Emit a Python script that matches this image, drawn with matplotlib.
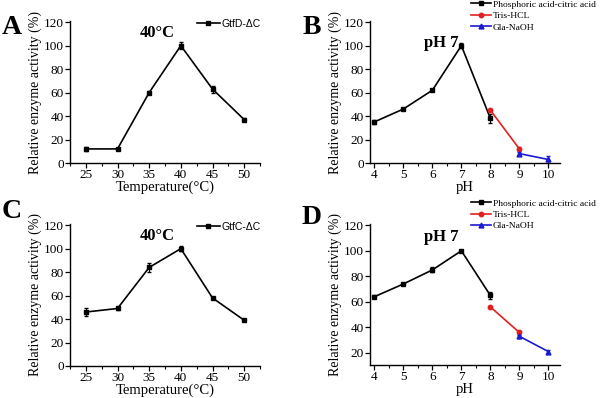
import numpy as np
import matplotlib
matplotlib.use("Agg")
import matplotlib.pyplot as plt
from matplotlib.ticker import MultipleLocator

plt.rcParams['font.family'] = ['Liberation Serif', 'DejaVu Serif']

# Panel A / C: temperature
temp = [25, 30, 35, 40, 45, 50]
gtfd = [12, 12, 60, 100, 63, 37]
gtfd_err = [2, 1, 1, 3, 3, 1]
gtfc = [46, 49, 84, 100, 58, 39]
gtfc_err = [3, 1, 4, 2, 1, 1]

# Panel B / D: pH, three buffers
ph_pa = [4, 5, 6, 7, 8]
ph_tris = [8, 9]
ph_gla = [9, 10]
b_pa = [35, 46, 62, 100, 38]
b_pa_err = [2, 1, 1, 2, 4]
b_tris = [45, 12]
b_tris_err = [1, 2]
b_gla = [8, 3]
b_gla_err = [1, 3]
d_pa = [64, 74, 85, 100, 65]
d_pa_err = [1, 1, 2, 1, 3]
d_tris = [56, 36]
d_tris_err = [1, 1]
d_gla = [33, 21]
d_gla_err = [1, 1]

buffer_names = ['Phosphoric acid-citric acid', 'Tris-HCL', 'Gla-NaOH']

fig = plt.figure(figsize=(6.0, 3.98), dpi=100)

W, H = 600.0, 398.0
def place(x0, x1, ytop, ybot):
    return fig.add_axes([x0 / W, 1 - ybot / H, (x1 - x0) / W, (ybot - ytop) / H])

axA = place(70, 260, 21, 163)
axB = place(370, 560, 21, 163)
axC = place(70, 260, 224, 366)
axD = place(370, 560, 224, 365)

def style(ax):
    for s in ['top', 'right']:
        ax.spines[s].set_visible(False)
    for s in ['left', 'bottom']:
        ax.spines[s].set_linewidth(1.0)
    ax.tick_params(direction='out', length=3.5, width=0.9, labelsize=9.5, pad=1)
    ax.tick_params(which='minor', direction='out', length=2, width=0.8)
    ax.set_ylabel('Relative enzyme activity (%)', fontsize=10, labelpad=1)

def series(ax, x, y, err, color, marker, ms, name):
    ax.plot(x, y, color=color, marker=marker, markersize=ms, lw=1.2, label=name)
    ax.errorbar(x, y, yerr=err, fmt='none', ecolor=color, capsize=1.5, elinewidth=0.8)

def temp_panel(ax, y, err, name):
    series(ax, temp, y, err, 'black', 's', 3.5, name)
    ax.set_xlim(22.5, 52.5)
    ax.set_ylim(0, 121)
    ax.set_xticks(temp)
    ax.xaxis.set_minor_locator(MultipleLocator(2.5))
    ax.set_yticks(np.arange(0, 121, 20))
    style(ax)
    ax.set_xlabel('Temperature(°C)', fontsize=10.5, labelpad=-0.5)
    ax.text(0.458, 0.915, '40°C', transform=ax.transAxes, ha='center', va='center',
            fontsize=12, fontweight='bold')

def ph_panel(ax, pa, pa_err, tris, tris_err, gla, gla_err, ymin, yticks, ytxt):
    series(ax, ph_pa, pa, pa_err, 'black', 's', 3.5, buffer_names[0])
    series(ax, ph_tris, tris, tris_err, '#e02020', 'o', 3.2, buffer_names[1])
    series(ax, ph_gla, gla, gla_err, '#1a1ad0', '^', 3.5, buffer_names[2])
    ax.set_xlim(3.85, 10.4)
    ax.set_ylim(ymin, 121)
    ax.set_xticks(range(4, 11))
    ax.xaxis.set_minor_locator(MultipleLocator(0.5))
    ax.set_yticks(yticks)
    style(ax)
    ax.set_xlabel('pH', fontsize=10.5, labelpad=-0.5)
    ax.text(0.374, ytxt, 'pH 7', transform=ax.transAxes, ha='center', va='center',
            fontsize=12, fontweight='bold')

temp_panel(axA, gtfd, gtfd_err, 'GtfD-ΔC')
temp_panel(axC, gtfc, gtfc_err, 'GtfC-ΔC')
ph_panel(axB, b_pa, b_pa_err, b_tris, b_tris_err, b_gla, b_gla_err, 0,
         np.arange(0, 121, 20), 0.845)
ph_panel(axD, d_pa, d_pa_err, d_tris, d_tris_err, d_gla, d_gla_err, 10.5,
         np.arange(20, 121, 20), 0.907)

# legends placed in figure pixels
for ax, ytop in [(axA, 19), (axC, 222)]:
    ax.legend(loc='upper left', bbox_to_anchor=(197 / W, 1 - ytop / H),
              bbox_transform=fig.transFigure, frameon=False,
              prop={'family': 'Liberation Sans', 'size': 7.5}, handlelength=2.2,
              handletextpad=0.2, borderaxespad=0, borderpad=0)

for ax, ytop in [(axB, 0), (axD, 199)]:
    ax.legend(loc='upper left', bbox_to_anchor=(471 / W, 1 - ytop / H),
              bbox_transform=fig.transFigure, frameon=False,
              prop={'size': 6.8}, handlelength=2.1, handletextpad=0.2,
              labelspacing=0.3, borderaxespad=0, borderpad=0)

for letter, x, y in [('A', 12, 28), ('B', 312, 28), ('C', 12, 212), ('D', 312, 217)]:
    fig.text(x / W, 1 - y / H, letter, ha='center', va='center', fontsize=20,
             fontweight='bold')

fig.savefig('out.png', dpi=100)
